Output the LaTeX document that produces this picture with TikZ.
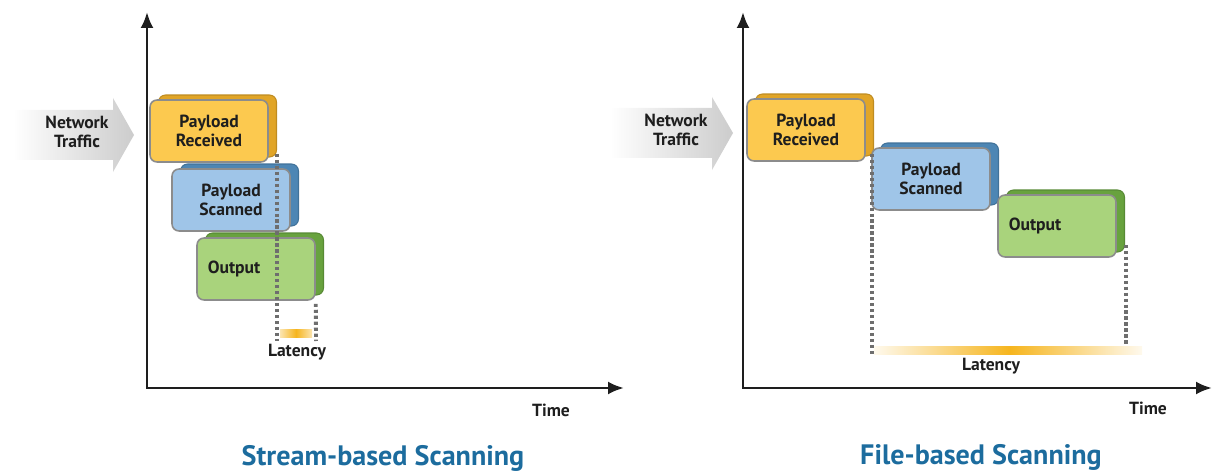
\documentclass[tikz,border=0pt]{standalone}
\usepackage{fontspec}
\setmainfont{PT Sans}
\usepackage{xcolor}
\definecolor{colEdge}{HTML}{8C8C8C}
\definecolor{colYellow}{HTML}{FCC94F}
\definecolor{colYellowSide}{HTML}{E1A527}
\definecolor{colBlue}{HTML}{9FC5E8}
\definecolor{colBlueSide}{HTML}{4D86B4}
\definecolor{colGreen}{HTML}{A9D37C}
\definecolor{colGreenSide}{HTML}{68A23E}
\definecolor{colTitle}{HTML}{1C6C9E}
\definecolor{colLatency}{HTML}{F6B51E}
\definecolor{colText}{HTML}{1E1E1E}
\definecolor{colDots}{HTML}{6E6E6E}
\usetikzlibrary{arrows.meta, positioning, shadows, calc}
\tikzset{
    stagebox/.style 2 args={
        draw=colEdge, fill=#1, line width=0.9pt,
        rounded corners=4pt,
        minimum width=2.36cm, minimum height=1.24cm,
        align=center, inner sep=0pt,
        font=\bfseries\fontsize{10}{11}\selectfont, text=colText,
        copy shadow={shadow xshift=0.17cm, shadow yshift=0.1cm,
                     fill=#2, draw=#2!85!black, line width=0.6pt}
    },
    axisline/.style={{Latex[length=0.32cm,width=0.26cm]}-{Latex[length=0.32cm,width=0.26cm]},
                     line width=1.6pt, color=colText, line join=miter},
    latline/.style={colDots, line width=2.2pt, dash pattern=on 1.8pt off 1.6pt},
    trafficarrow/.style={left color=white, right color=black!20, draw=none},
    lbl/.style={font=\bfseries\fontsize{10}{11}\selectfont, text=colText, align=center, inner sep=0pt},
    paneltitle/.style={font=\bfseries\fontsize{16}{18}\selectfont, text=colTitle, inner sep=0pt},
}
\begin{document}
\begin{tikzpicture}[x=0.02cm, y=-0.02cm]
    \useasboundingbox (0,0) rectangle (1214,473);

    % stream-based panel
    \coordinate (lo) at (147,388);
    \coordinate (ltop) at (147,12);
    \coordinate (lend) at (624,388);
    \draw[axisline] (ltop) -- (lo) -- (lend);
    \shade[trafficarrow] (13,110) -- (113,110) -- (113,98) -- (134,135)
        -- (113,172) -- (113,160) -- (13,160) -- cycle;
    \node[lbl] (ltraffic) at (77,132) {Network\\Traffic};

    \node[stagebox={colYellow}{colYellowSide}] (lpr) at (209,131) {Payload\\Received};
    \node[stagebox={colBlue}{colBlueSide}] (lps) at (231,200) {Payload\\Scanned};
    \node[stagebox={colGreen}{colGreenSide}] (lout) at (256,269) {Output\hspace*{0.88cm}};

    \coordinate (latA) at (277,341);
    \coordinate (latB) at (316,341);
    \draw[latline] ($(lpr.south -| latA)+(0,-9)$) -- (latA);
    \draw[latline] ($(lout.south east)+(0,3)$) -- (latB);
    \shade[left color=colLatency!35, right color=colLatency] (280,329) rectangle (296,337);
    \shade[left color=colLatency, right color=colLatency!35] (296,329) rectangle (312,337);
    \node[lbl] (llat) at (297,352) {Latency};
    \node[lbl] (ltime) at (551,410) {Time};
    \node[paneltitle] (ltitle) at (383,458) {Stream-based Scanning};

    % file-based panel
    \coordinate (ro) at (743,388);
    \coordinate (rtop) at (743,12);
    \coordinate (rend) at (1212,388);
    \draw[axisline] (rtop) -- (ro) -- (rend);
    \shade[trafficarrow] (610,108) -- (712,108) -- (712,97) -- (733,133)
        -- (712,170) -- (712,158) -- (610,158) -- cycle;
    \node[lbl] (rtraffic) at (676,130) {Network\\Traffic};

    \node[stagebox={colYellow}{colYellowSide}] (rpr) at (806,130) {Payload\\Received};
    \node[stagebox={colBlue}{colBlueSide}] (rps) at (931,179) {Payload\\Scanned};
    \node[stagebox={colGreen}{colGreenSide}] (rout) at (1057,226) {Output\hspace*{0.88cm}};

    \coordinate (latC) at (872,355);
    \coordinate (latD) at (1126,352);
    \draw[latline] ($(rpr.south -| latC)+(0,-8)$) -- (latC);
    \draw[latline] ($(rout.south -| latD)+(0,-13)$) -- (latD);
    \shade[left color=colLatency!8, right color=colLatency] (874,346) rectangle (1010,354);
    \shade[left color=colLatency, right color=colLatency!8] (1010,346) rectangle (1142,354);
    \node[lbl] (rlat) at (991,366) {Latency};
    \node[lbl] (rtime) at (1148,408) {Time};
    \node[paneltitle] (rtitle) at (981,457) {File-based Scanning};
\end{tikzpicture}
\end{document}
